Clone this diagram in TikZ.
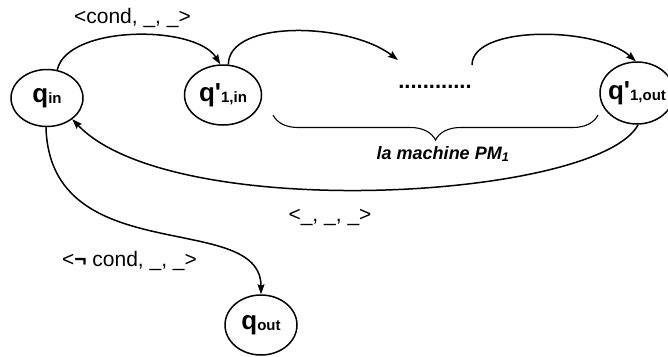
\documentclass[tikz,border=0pt]{standalone}
\usepackage{fontspec}
\setmainfont{Liberation Sans}[Ligatures=TeXOff]
\usetikzlibrary{arrows.meta,shapes.geometric,decorations.pathreplacing}
\newcommand\qlab[2]{\fontsize{26}{26}\selectfont\bfseries q#1\raisebox{-1.5pt}{\fontsize{15}{15}\selectfont #2}}
\begin{document}
\begin{tikzpicture}[x=1pt,y=-1pt,
  state/.style={ellipse,draw,line width=1.5pt,inner sep=0pt,minimum width=72pt,minimum height=57pt},
  qtext/.style={inner sep=0pt},
  conn/.style={line width=1.5pt,-{Stealth[length=10pt,width=7pt,inset=1.5pt]}},
  lbl/.style={font=\fontsize{21}{21}\selectfont,inner sep=0pt,anchor=base},
]
\useasboundingbox (0,0) rectangle (668,356);
% states
\node[state] (qin) at (47,98) {};
\node[qtext] (qinT) at (qin) {\qlab{}{in}};
\node[state,minimum width=77pt,minimum height=60pt] (q1in) at (223,95) {};
\node[qtext] (q1inT) at (q1in) {\qlab{\textquotesingle}{1,in}};
\node[state,minimum width=74pt,minimum height=62pt] (q1out) at (637,93) {};
\node[qtext] (q1outT) at (q1out) {\qlab{\textquotesingle}{1,out}};
\node[state,minimum width=72pt,minimum height=60pt] (qout) at (261,325) {};
\node[qtext] (qoutT) at (qout) {\qlab{}{out}};
% dots
\node[inner sep=0pt,font=\fontsize{22}{22}\selectfont\bfseries] (dots) at (435,87) {............};
\coordinate (dotsin) at (398,60);
\coordinate (dotsout) at (472,65);
% connectors
\draw[conn] (qin.70) .. controls +(10,-45) and +(-25,-40) .. (q1in.95);
\draw[conn] (q1in.80) .. controls +(0,-45) and +(-50,-38) .. (dotsin);
\draw[conn] (dotsout) .. controls +(0,-40) and +(-40,-35) .. (q1out.92);
\draw[conn] (q1out.272) .. controls +(-40,75) and +(100,105) .. (qin.-40);
\draw[conn] (qin.-92) .. controls +(4,144) and +(0,-85) .. (qout.north);
% brace
\draw[line width=1.1pt,decorate,decoration={brace,amplitude=25pt}] (598,115) -- (273,115);
\node[inner sep=0pt,font=\fontsize{18}{18}\selectfont\bfseries\itshape] (pm) at (443,154) {la machine PM\textsubscript{1}};
% labels
\node[lbl] (l1) at (132.5,23) {<cond, \_, \_>};
\node[lbl] (l2) at (129.5,266.5) {<{\bfseries ¬} cond, \_, \_>};
\node[lbl] (l3) at (330,221) {<\_, \_, \_>};
\end{tikzpicture}
\end{document}
